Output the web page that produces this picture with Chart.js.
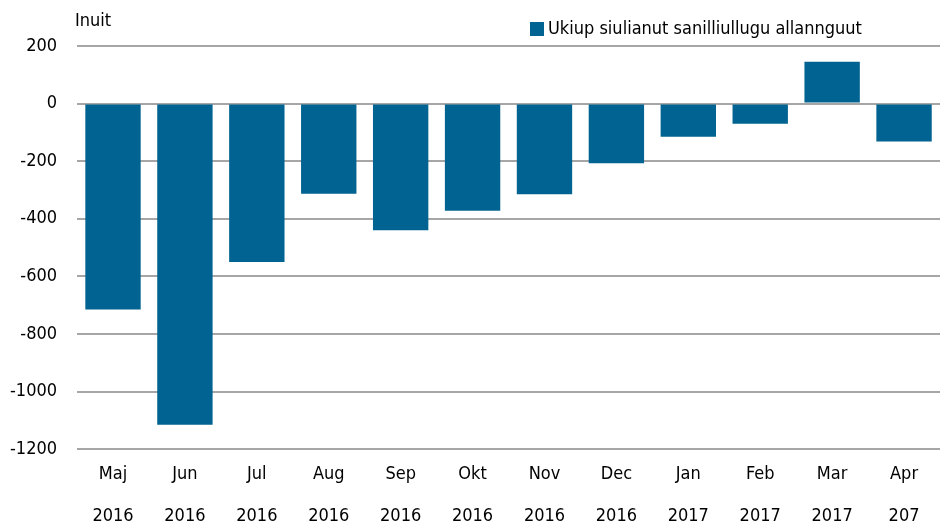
<!DOCTYPE html>
<html>
<head>
<meta charset="utf-8">
<script src="https://cdn.jsdelivr.net/npm/chart.js@4"></script>
<style>
 html,body{margin:0;padding:0;background:#fff;}
 #wrap{width:940px;height:525px;position:relative;}
</style>
</head>
<body>
<div id="wrap"><canvas id="chart"></canvas></div>
<script>
// Ukiup siulianut sanilliullugu allannguut
const months = ["Maj","Jun","Jul","Aug","Sep","Okt","Nov","Dec","Jan","Feb","Mar","Apr"];
const years  = ["2016","2016","2016","2016","2016","2016","2016","2016","2017","2017","2017","207"];
const values = [-715,-1115,-550,-313,-440,-372,-315,-207,-115,-70,145,-132];
const seriesName = "Ukiup siulianut sanilliullugu allannguut";
const unitLabel = "Inuit";

const FONT = "'DejaVu Sans Condensed','Liberation Sans Narrow',sans-serif";
const BAR = "#006391";
Chart.defaults.font.family = FONT;
Chart.defaults.color = "#000";

// unit label top-left and legend top-right
const headPlugin = {
 id:"head",
 afterDraw(c){
  const ctx=c.ctx;
  ctx.save();
  ctx.font="18px "+FONT;
  ctx.fillStyle="#000";
  ctx.textBaseline="middle";
  ctx.fillText(unitLabel,75,21);
  ctx.fillStyle=BAR;
  ctx.fillRect(530,22,14,14);
  ctx.fillStyle="#000";
  ctx.fillText(c.data.datasets[0].label,548,29);
  ctx.restore();
 }
};

new Chart(document.getElementById("chart"),{
 type:"bar",
 data:{
  labels:months.map((m,i)=>[m,years[i]]),
  datasets:[{label:seriesName,data:values,backgroundColor:BAR,
   categoryPercentage:1,barPercentage:0.77}]
 },
 options:{
  responsive:true,maintainAspectRatio:false,animation:false,
  layout:{padding:{left:-10,right:0,top:46,bottom:-8}},
  plugins:{legend:{display:false},tooltip:{enabled:false}},
  scales:{
   x:{grid:{display:false},border:{display:false},
    ticks:{font:{size:18,lineHeight:2.33},padding:-4,maxRotation:0}},
   y:{min:-1200,max:200,
    grid:{color:"#a6a6a6",lineWidth:2,drawTicks:false},border:{display:false},
    ticks:{stepSize:200,font:{size:18},padding:20,callback:v=>String(v)}}
  }
 },
 plugins:[headPlugin]
});
</script>
</body>
</html>
